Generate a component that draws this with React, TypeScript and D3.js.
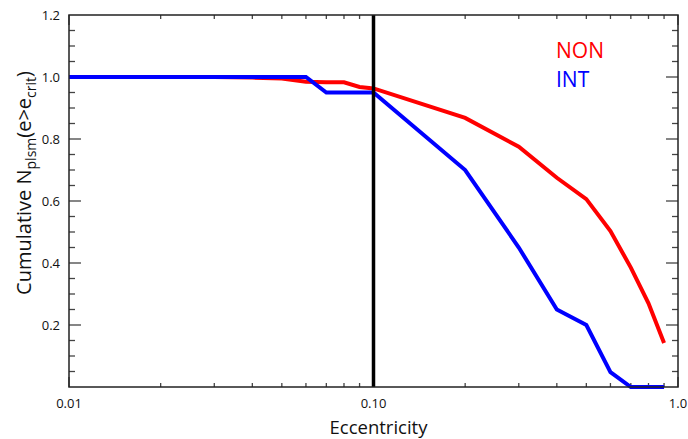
import React from "react";
import * as d3 from "d3";

const ecc = [0.01, 0.02, 0.03, 0.04, 0.05, 0.06, 0.07, 0.08, 0.09, 0.1, 0.2, 0.3, 0.4, 0.5, 0.6, 0.7, 0.8, 0.9];
const nonValues = [1.0, 1.0, 1.0, 0.998, 0.995, 0.985, 0.983, 0.983, 0.968, 0.963, 0.868, 0.775, 0.675, 0.606, 0.503, 0.385, 0.27, 0.142];
const intValues = [1.0, 1.0, 1.0, 1.0, 1.0, 1.0, 0.95, 0.95, 0.95, 0.95, 0.7, 0.45, 0.25, 0.2, 0.048, 0.0, 0.0, 0.0];
const yTicks = [0.2, 0.4, 0.6, 0.8, 1.0, 1.2];
const xTicks = [0.01, 0.1, 1.0];
const xTickLabels = ["0.01", "0.10", "1.0"];
const eCrit = 0.1;

const W = 688;
const H = 439;
const margin = { top: 15, right: 10, bottom: 52, left: 69 };

export default function App() {
  const x = d3.scaleLog().domain([0.01, 1]).range([margin.left, W - margin.right]);
  const y = d3.scaleLinear().domain([0, 1.2]).range([H - margin.bottom, margin.top]);

  const line = d3
    .line<number>()
    .x((_, i) => x(ecc[i]))
    .y((d) => y(d));

  const minorY = d3.range(1, 24).map((i) => i * 0.05);
  const minorX: number[] = [];
  [0.01, 0.1].forEach((dec) => {
    for (let k = 2; k <= 9; k++) minorX.push(dec * k);
  });

  const x0 = margin.left;
  const x1 = W - margin.right;
  const y0 = H - margin.bottom;
  const y1 = margin.top;
  const font = "'Open Sans', 'DejaVu Sans', sans-serif";
  const tickColor = "#444";

  return (
    <svg width={W} height={H} style={{ position: "absolute", left: 0, top: 0, background: "#fff" }} fontFamily={font}>
      {/* y ticks, both sides */}
      {minorY.map((v) => {
        const major = Math.abs(v / 0.2 - Math.round(v / 0.2)) < 1e-6;
        const len = major ? 12 : 6;
        return (
          <g key={"y" + v} stroke={tickColor} strokeWidth={1.3}>
            <line x1={x0} x2={x0 + len} y1={y(v)} y2={y(v)} />
            <line x1={x1} x2={x1 - len} y1={y(v)} y2={y(v)} />
          </g>
        );
      })}
      {/* x ticks, bottom and top */}
      {minorX.map((v) => (
        <g key={"x" + v} stroke={tickColor} strokeWidth={1.3}>
          <line x1={x(v)} x2={x(v)} y1={y0} y2={y0 - 4} />
          <line x1={x(v)} x2={x(v)} y1={y1} y2={y1 + 4} />
        </g>
      ))}
      {xTicks.map((v) => (
        <g key={"xm" + v} stroke={tickColor} strokeWidth={1.3}>
          <line x1={x(v)} x2={x(v)} y1={y0} y2={y0 - 10} />
          <line x1={x(v)} x2={x(v)} y1={y1} y2={y1 + 10} />
        </g>
      ))}

      {/* data */}
      <path d={line(nonValues) ?? ""} fill="none" stroke="#ff0000" strokeWidth={4} strokeLinejoin="miter" />
      <path d={line(intValues) ?? ""} fill="none" stroke="#0000ff" strokeWidth={4} strokeLinejoin="miter" />

      {/* critical eccentricity */}
      <line x1={x(eCrit)} x2={x(eCrit)} y1={y1} y2={y0} stroke="#000" strokeWidth={3.5} />

      {/* frame */}
      <rect x={x0} y={y1} width={x1 - x0} height={y0 - y1} fill="none" stroke="#222" strokeWidth={1.5} />

      {/* tick labels */}
      {yTicks.map((v) => (
        <text key={"yl" + v} x={x0 - 9} y={y(v)} dy="0.35em" textAnchor="end" fontSize={13} fill="#111">
          {v.toFixed(1)}
        </text>
      ))}
      {xTicks.map((v, i) => (
        <text key={"xl" + v} x={x(v)} y={y0 + 21} textAnchor="middle" fontSize={13} fill="#111">
          {xTickLabels[i]}
        </text>
      ))}

      {/* axis titles */}
      <text x={(x0 + x1) / 2 + 5} y={H - 5} textAnchor="middle" fontSize={18.5} fill="#111">
        Eccentricity
      </text>
      <text transform={`translate(31,183) rotate(-90)`} textAnchor="middle" fontSize={20} fill="#111">
        Cumulative N
        <tspan fontSize={14} dy={5}>plsm</tspan>
        <tspan dy={-5}>(e&gt;e</tspan>
        <tspan fontSize={14} dy={5}>crit</tspan>
        <tspan dy={-5}>)</tspan>
      </text>

      {/* legend */}
      <text x={556} y={58} fontSize={21} fill="#ff0000">NON</text>
      <text x={556} y={87} fontSize={21} fill="#0000ff">INT</text>
    </svg>
  );
}
